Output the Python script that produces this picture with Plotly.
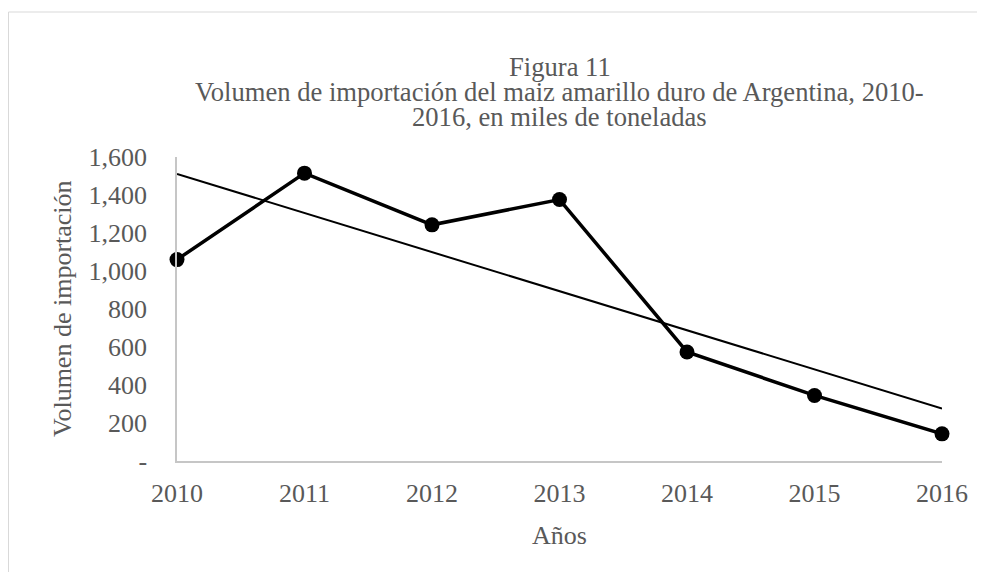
import numpy as np
import plotly.graph_objects as go

years = ["2010", "2011", "2012", "2013", "2014", "2015", "2016"]
volumen = [1060, 1515, 1243, 1376, 574, 345, 143]
y_tickvals = [0, 200, 400, 600, 800, 1000, 1200, 1400, 1600]
y_ticktext = ["-", "200", "400", "600", "800", "1,000", "1,200", "1,400", "1,600"]

title_lines = ["Figura 11",
               "Volumen de importación del maiz amarillo duro de Argentina, 2010-",
               "2016, en miles de toneladas"]
x_title = "Años"
y_title = "Volumen de importación"

xi = np.arange(len(years))
slope, intercept = np.polyfit(xi, volumen, 1)
trend = slope * xi + intercept

FONT = "Liberation Serif, Times New Roman, serif"
GRAY = "#595959"
FS = 26

# page body has an 8px margin; figure coordinates below are screen coords - 8
OFF = 8
W, H = 985 - OFF, 572 - OFF
L, R, T, B = 177 - OFF, 942 - OFF, 157 - OFF, 461 - OFF
pw, ph = R - L, B - T


def px_x(sx):
    return (sx - OFF - L) / pw


def px_y(sy):
    return (B - (sy - OFF)) / ph


fig = go.Figure()
fig.add_trace(go.Scatter(
    x=xi, y=volumen, mode="lines+markers",
    line=dict(color="black", width=3.5),
    marker=dict(color="black", size=15),
    cliponaxis=False, showlegend=False))
fig.add_trace(go.Scatter(
    x=xi, y=trend, mode="lines",
    line=dict(color="black", width=2),
    cliponaxis=False, showlegend=False))

fig.add_shape(type="rect", xref="paper", yref="paper",
              x0=(0.5 - L) / pw, x1=(W + 20 - L) / pw,
              y0=px_y(600), y1=px_y(12),
              line=dict(color="#d9d9d9", width=1), fillcolor="rgba(0,0,0,0)", layer="below")

annotations = []
for line, sy in zip(title_lines, [67, 92, 117]):
    annotations.append(dict(text=line, xref="paper", yref="paper", x=0.5, y=px_y(sy),
                            xanchor="center", yanchor="middle", showarrow=False,
                            font=dict(family=FONT, size=26.6, color=GRAY)))
annotations.append(dict(text=x_title, xref="paper", yref="paper", x=0.5, y=px_y(535),
                        xanchor="center", yanchor="middle", showarrow=False,
                        font=dict(family=FONT, size=FS, color=GRAY)))
annotations.append(dict(text=y_title, xref="paper", yref="paper", x=px_x(62), y=0.5,
                        xanchor="center", yanchor="middle", showarrow=False, textangle=-90,
                        font=dict(family=FONT, size=FS, color=GRAY)))

fig.update_layout(
    width=W, height=H,
    margin=dict(l=L, r=W - R, t=T, b=H - B),
    paper_bgcolor="white", plot_bgcolor="white",
    font=dict(family=FONT, color=GRAY, size=FS),
    annotations=annotations,
    xaxis=dict(range=[0, 6], tickvals=list(xi), ticktext=years,
               showgrid=False, zeroline=False, showline=True,
               linecolor="#c6c6c6", linewidth=1.5, ticks="",
               ticklabelstandoff=8,
               tickfont=dict(size=FS, color=GRAY)),
    yaxis=dict(range=[0, 1600], tickvals=y_tickvals, ticktext=y_ticktext,
               showgrid=False, zeroline=False, showline=True,
               linecolor="#c6c6c6", linewidth=1.5, ticks="",
               ticklabelstandoff=23,
               tickfont=dict(size=FS, color=GRAY)),
)

fig.write_html("out.html")
